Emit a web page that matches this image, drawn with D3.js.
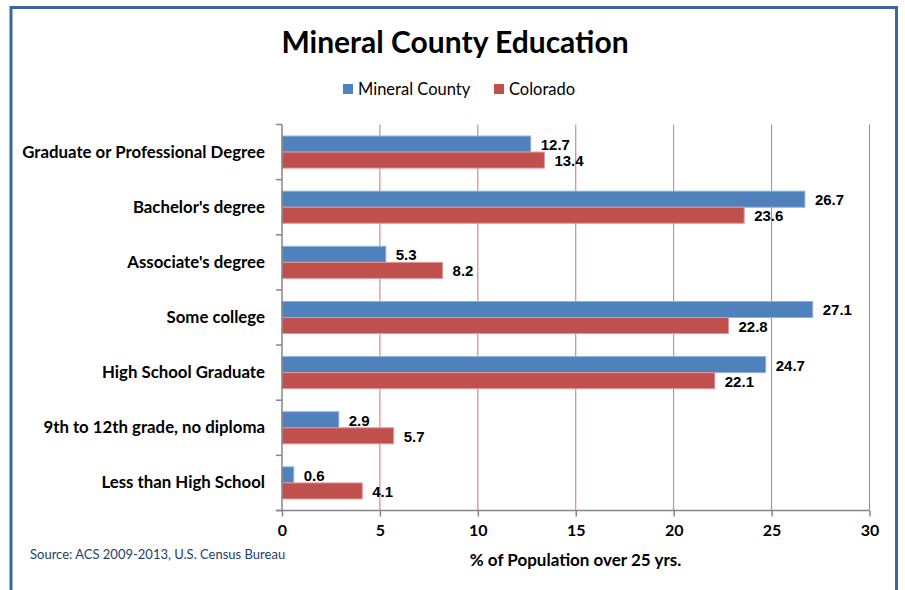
<!DOCTYPE html>
<html><head><meta charset="utf-8">
<script src="https://cdn.jsdelivr.net/npm/d3@7"></script>
<style>
html,body{margin:0;padding:0;background:#fff;}
svg{display:block;}
</style></head>
<body>
<svg id="chart" width="905" height="590"></svg>
<script>
const categories = ["Graduate or Professional Degree","Bachelor's degree","Associate's degree","Some college","High School Graduate","9th to 12th grade, no diploma","Less than High School"];
const mineral = [12.7, 26.7, 5.3, 27.1, 24.7, 2.9, 0.6];
const colorado = [13.4, 23.6, 8.2, 22.8, 22.1, 5.7, 4.1];
const seriesNames = ["Mineral County", "Colorado"];
const seriesColors = ["#4f81bd", "#c0504d"];
const strokeColors = ["#8eb0da", "#e09896"];
const xTicks = [0, 5, 10, 15, 20, 25, 30];

const svg = d3.select("#chart");
const labelFont = "Lato, 'Open Sans', sans-serif";

// frame
svg.append("rect").attr("x", 11).attr("y", 7.5).attr("width", 885.5).attr("height", 600)
  .attr("fill", "none").attr("stroke", "#3c679c").attr("stroke-width", 3);

const x = d3.scaleLinear().domain([0, 30]).range([282, 869.5]);
const y = d3.scaleBand().domain(categories).range([124.5, 510.5]).paddingInner(0).paddingOuter(0);
const inner = d3.scaleBand().domain(seriesNames).range([0, y.bandwidth()]).paddingInner(0).paddingOuter(0.72);

// title
svg.append("text").attr("x", 455).attr("y", 53).attr("text-anchor", "middle")
  .attr("font-family", labelFont).attr("font-weight", "bold").attr("font-size", 30)
  .attr("fill", "#000").text("Mineral County Education");

// legend
const legendX = [343, 494];
seriesNames.forEach((s, i) => {
  svg.append("rect").attr("x", legendX[i]).attr("y", 84).attr("width", 10).attr("height", 10).attr("fill", seriesColors[i]);
  svg.append("text").attr("x", legendX[i] + 15).attr("y", 95).attr("font-family", labelFont)
    .attr("font-size", 16.5).attr("fill", "#000").text(s);
});

// gridlines
svg.append("g").selectAll("line").data(xTicks.filter(d => d > 0)).join("line")
  .attr("x1", d => x(d)).attr("x2", d => x(d)).attr("y1", y.range()[0]).attr("y2", y.range()[1])
  .attr("stroke", "#c0504d").attr("stroke-opacity", 0.8).attr("stroke-width", 1);

// bars
const data = categories.map((c, i) => ({c, vals: [mineral[i], colorado[i]]}));
const groups = svg.append("g").selectAll("g").data(data).join("g")
  .attr("transform", d => `translate(0,${y(d.c)})`);
groups.selectAll("rect").data(d => d.vals.map((v, j) => ({v, s: seriesNames[j], j}))).join("rect")
  .attr("x", x(0)).attr("y", d => inner(d.s)).attr("width", d => x(d.v) - x(0)).attr("height", inner.bandwidth())
  .attr("fill", d => seriesColors[d.j]).attr("stroke", d => strokeColors[d.j]).attr("stroke-width", 1);
groups.selectAll("text").data(d => d.vals.map((v, j) => ({v, s: seriesNames[j], j}))).join("text")
  .attr("x", d => x(d.v) + 10).attr("y", d => inner(d.s) + inner.bandwidth() / 2 + 6)
  .attr("font-family", "'Liberation Sans', Arial, sans-serif").attr("font-weight", "bold")
  .attr("font-size", 15).attr("fill", "#000").text(d => d3.format(".1f")(d.v));

// x axis
const xAxis = svg.append("g").attr("transform", `translate(0,${y.range()[1]})`)
  .call(d3.axisBottom(x).tickValues(xTicks).tickSize(6).tickPadding(8).tickFormat(d3.format("d")));
xAxis.select(".domain").attr("stroke", "#868686").attr("stroke-width", 1.5).attr("d", `M${x(0) - 6},0H${x(30)}`);
xAxis.selectAll(".tick line").attr("stroke", "#868686").attr("stroke-width", 1.5);
xAxis.selectAll(".tick text").attr("font-family", labelFont).attr("font-weight", "bold")
  .attr("font-size", 16).attr("fill", "#000");

// y axis
const yAxis = svg.append("g").attr("transform", `translate(${x(0)},0)`)
  .call(d3.axisLeft(y).tickValues([]).tickSize(0));
yAxis.select(".domain").attr("stroke", "#868686").attr("stroke-width", 1.5).attr("d", `M0,${y.range()[0]}V${y.range()[1]}`);
const boundaries = categories.map(c => y(c)).concat([y.range()[1]]);
yAxis.selectAll(".bnd").data(boundaries).join("line").attr("class", "bnd")
  .attr("x1", -6).attr("x2", 0).attr("y1", d => d).attr("y2", d => d)
  .attr("stroke", "#868686").attr("stroke-width", 1.5);
yAxis.selectAll(".cat").data(categories).join("text").attr("class", "cat")
  .attr("x", -17).attr("y", d => y(d) + y.bandwidth() / 2 + 5.5)
  .attr("text-anchor", "end").attr("font-family", labelFont).attr("font-weight", "bold")
  .attr("font-size", 16.8).attr("fill", "#000").text(d => d);

// axis title
svg.append("text").attr("x", 575.5).attr("y", 566).attr("text-anchor", "middle")
  .attr("font-family", labelFont).attr("font-weight", "bold").attr("font-size", 17)
  .attr("fill", "#000").text("% of Population over 25 yrs.");

// source
svg.append("text").attr("x", 30).attr("y", 559).attr("font-family", labelFont)
  .attr("font-size", 13).attr("fill", "#1f3d6b").text("Source: ACS 2009-2013, U.S. Census Bureau");
</script>
</body></html>
